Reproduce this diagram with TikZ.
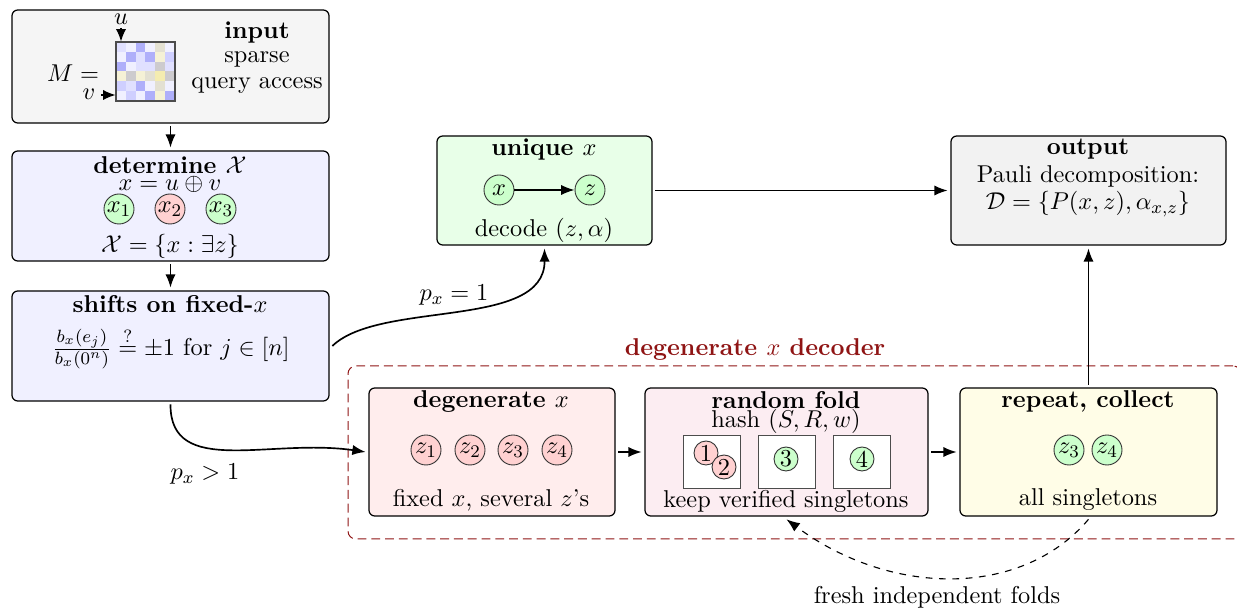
\documentclass[11pt,tikz,border=0pt]{standalone}
\usetikzlibrary{arrows.meta}

\newcommand{\px}{0.45pt}

\definecolor{ca}{HTML}{F0F0FF}
\definecolor{cb}{HTML}{E0E0FF}
\definecolor{cc}{HTML}{CFCFFF}
\definecolor{cd}{HTML}{AFAFFA}
\definecolor{ce}{HTML}{F5F1D6}
\definecolor{cf}{HTML}{E3E0D2}
\definecolor{cg}{HTML}{F4ECB0}
\definecolor{ch}{HTML}{CDCBCE}
\definecolor{darkred}{HTML}{8F1414}
\definecolor{foldfill}{HTML}{FCEDF2}
\definecolor{repeatfill}{HTML}{FFFDE7}

\tikzset{
  flowbox/.style={draw=black,line width=0.55pt,rounded corners=2.6pt,outer sep=1.5pt,inner sep=0pt},
  binbox/.style={draw=black!70,line width=0.45pt,fill=white,inner sep=0pt,minimum width=57*\px,minimum height=53*\px},
  txt/.style={inner sep=0pt},
  boxtitle/.style={inner sep=0pt,font=\bfseries},
  good/.style={circle,draw=black!80,line width=0.4pt,fill=green!20,inner sep=0pt,minimum size=30*\px},
  bad/.style={circle,draw=black!80,line width=0.4pt,fill=red!18,inner sep=0pt,minimum size=30*\px},
  smallgood/.style={good,minimum size=24*\px},
  smallbad/.style={bad,minimum size=24*\px},
  flow/.style={line width=0.75pt,-{Latex[length=6pt,width=4.6pt]}},
}

\begin{document}
\begin{tikzpicture}[x=\px,y=\px,yscale=-1,xscale=1]
\useasboundingbox (0,0) rectangle (1237,610);
\clip (0,0) rectangle (1237,610);

% Dashed frame
\node [draw=darkred,line width=0.45pt,dash pattern=on 4pt off 2.2pt,rounded corners=3.5pt,inner sep=0pt,minimum width=893*\px,minimum height=173*\px] (frame) at (794.5,452.5) {};
\node [boxtitle,text=darkred] (frametitle) at (755,350) {degenerate $x$ decoder};

% Boxes
\node [flowbox,fill=black!4,minimum width=317*\px,minimum height=113*\px] (input) at (170.5,66.5) {};
\node [flowbox,fill=ca,minimum width=317*\px,minimum height=110*\px] (determine) at (170.5,206) {};
\node [flowbox,fill=ca,minimum width=317*\px,minimum height=110*\px] (shifts) at (170.5,346) {};
\node [flowbox,fill=green!9,minimum width=215*\px,minimum height=109*\px] (unique) at (544.5,190.5) {};
\node [flowbox,fill=black!5,minimum width=275*\px,minimum height=109*\px] (output) at (1088.5,190.5) {};
\node [flowbox,fill=red!7,minimum width=246*\px,minimum height=128*\px] (degen) at (492,452) {};
\node [flowbox,fill=foldfill,minimum width=283*\px,minimum height=128*\px] (fold) at (786.5,452) {};
\node [flowbox,fill=repeatfill,minimum width=257*\px,minimum height=128*\px] (repeat) at (1088.5,452) {};

% Input matrix
\foreach \row [count=\j from 0] in {{cb,ca,cd,ca,cf,ca},{ca,cd,cb,cd,ce,cc},{cd,ca,cb,cb,ch,cb},{ce,ch,ce,cf,cg,ch},{cc,cb,cd,ca,cf,ca},{ca,cc,ca,cd,ce,cd}}
  \foreach \cell [count=\i from 0] in \row
    \fill [\cell] (116+\i*9.83,42+\j*9.83) rectangle +(9.83,9.83);
\node [draw=black!70,line width=0.5pt,inner sep=0pt,minimum size=59*\px] (mat) at (145.5,71.5) {};
\node [txt] (mlabel) at (73,73) {$M=$};
\node [txt] (ulabel) at (121,19) {$u$};
\node [txt] (vlabel) at (89,94) {$v$};
\coordinate (utail) at (121,28);
\coordinate (utip) at (121,41.5);
\coordinate (vtail) at (101,95);
\coordinate (vtip) at (115.5,95);
\draw [line width=0.55pt,-{Latex[length=5.6pt,width=4.6pt]}] (utail) -- (utip);
\draw [line width=0.55pt,-{Latex[length=5.6pt,width=4.6pt]}] (vtail) -- (vtip);
\node [boxtitle] (inputtitle) at (257,33) {input};
\node [txt] (inputa) at (257,59) {sparse};
\node [txt] (inputb) at (257,86) {query access};

% Determine
\node [boxtitle] (dettitle) at (170,165) {determine $\mathcal{X}$};
\node [txt] (detxor) at (170,184) {$x=u\oplus v$};
\node [good] (x1) at (119,209) {$x_1$};
\node [bad] (x2) at (170,209) {$x_2$};
\node [good] (x3) at (221,209) {$x_3$};
\node [txt] (detset) at (170,246) {$\mathcal{X}=\{x:\exists z\}$};

% Shifts
\node [boxtitle] (shifttitle) at (170,304) {shifts on fixed-$x$};
\node [txt] (shiftform) at (171,348) {$\frac{b_x(e_j)}{b_x(0^n)}\stackrel{?}{=}\pm1$ for $j\in[n]$};

% Unique
\node [boxtitle] (uniquetitle) at (544,150) {unique $x$};
\node [good] (ux) at (499,190) {$x$};
\node [good] (uz) at (590,190) {$z$};
\node [txt] (uniquetext) at (544,230) {decode $(z,\alpha)$};

% Output
\node [boxtitle] (outtitle) at (1088,149) {output};
\node [txt] (outa) at (1088,176) {Pauli decomposition:};
\node [txt] (outb) at (1088,204) {$\mathcal{D}=\{P(x,z),\alpha_{x,z}\}$};

% Degenerate
\node [boxtitle] (degentitle) at (491,402) {degenerate $x$};
\node [bad] (dz1) at (426,450) {$z_1$};
\node [bad] (dz2) at (470,450) {$z_2$};
\node [bad] (dz3) at (513,450) {$z_3$};
\node [bad] (dz4) at (557,450) {$z_4$};
\node [txt] (degentext) at (491,500) {fixed $x$, several $z$'s};

% Fold
\node [boxtitle] (foldtitle) at (786,400) {random fold};
\node [txt] (foldhash) at (786,421) {hash $(S,R,w)$};
\node [binbox] (bina) at (711.5,462.5) {};
\node [binbox] (binb) at (786.5,462.5) {};
\node [binbox] (binc) at (862,462.5) {};
\node [smallbad] (fa) at (706,453) {1};
\node [smallbad] (fb) at (724,467) {2};
\node [smallgood] (fc) at (786,459) {3};
\node [smallgood] (fd) at (862,459) {4};
\node [txt] (foldtext) at (786,501) {keep verified singletons};

% Repeat
\node [boxtitle] (reptitle) at (1088,401) {repeat, collect};
\node [good] (rz3) at (1069,450) {$z_3$};
\node [good] (rz4) at (1107,450) {$z_4$};
\node [txt] (reptext) at (1088,500) {all singletons};

% Connectors
\draw [flow] (input) -- (determine);
\draw [flow] (determine) -- (shifts);
\draw [flow] (ux) -- (uz);
\draw [flow] (unique.east) -- (output.west);
\draw [flow] (degen.east) -- (fold.west);
\draw [flow] (fold.east) -- (repeat.west);
\draw [flow] (repeat.north) -- (output.south);
\draw [flow] (shifts.east) .. controls (380,300) and (545,330) .. (unique.south);
\draw [flow] (shifts.south) .. controls (170,478) and (270,438) .. (degen.west);
\draw [flow,dashed,line width=0.5pt] (repeat.south) .. controls (1020,600) and (888,595) .. (fold.south);

% Edge labels
\node [txt] (pone) at (454,295) {$p_x=1$};
\node [txt] (pmany) at (205,474) {$p_x>1$};
\node [txt] (fresh) at (937,597) {fresh independent folds};

\end{tikzpicture}
\end{document}
